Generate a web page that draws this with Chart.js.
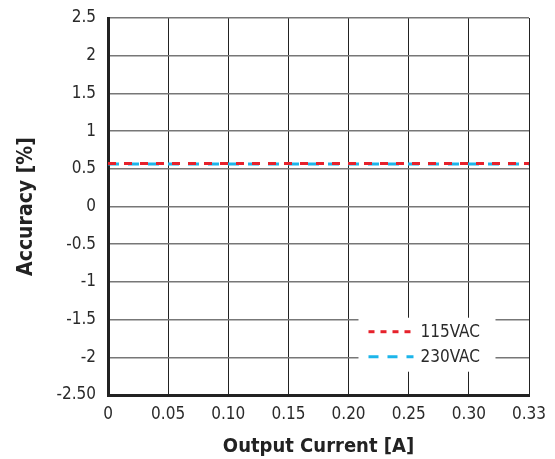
<!DOCTYPE html>
<html><head><meta charset="utf-8">
<script src="https://cdn.jsdelivr.net/npm/chart.js@4/dist/chart.umd.min.js"></script>
<style>html,body{margin:0;padding:0;background:#fff}#wrap{width:555px;height:459px}</style>
</head><body><div id="wrap"><canvas id="c" width="555" height="459"></canvas></div>
<script>
const categories = ['0','0.05','0.10','0.15','0.20','0.25','0.30','0.33'];
const series115 = [0.57,0.57,0.57,0.57,0.57,0.57,0.57,0.57];
const series230 = [0.565,0.565,0.565,0.565,0.565,0.565,0.565,0.565];
const yTickLabels = {'-2.5':'-2.50','-2':'-2','-1.5':'-1.5','-1':'-1','-0.5':'-0.5','0':'0','0.5':'0.5','1':'1','1.5':'1.5','2':'2','2.5':'2.5'};
const FONT = "'DejaVu Sans Condensed','Liberation Sans Narrow',Arial,sans-serif";

const legendPlugin = {
  id: 'boxLegend',
  afterDatasetsDraw(chart) {
    const ctx = chart.ctx, a = chart.chartArea;
    const x0 = a.left + (a.right - a.left) * 0.595, y0 = a.top + (a.bottom - a.top) * 0.795;
    const w = 137, h = 54;
    ctx.save();
    ctx.fillStyle = '#fff';
    ctx.fillRect(x0, y0, w, h);
    chart.data.datasets.forEach((ds, i) => {
      const yy = y0 + 14 + i * 25;
      ctx.strokeStyle = ds.borderColor;
      ctx.lineWidth = 3;
      ctx.setLineDash(ds.legendDash);
      ctx.beginPath(); ctx.moveTo(x0 + 10, yy); ctx.lineTo(x0 + 55, yy); ctx.stroke();
      ctx.setLineDash([]);
      ctx.fillStyle = '#2a2a2a';
      ctx.font = "17px " + FONT;
      ctx.textBaseline = 'middle';
      ctx.fillText(ds.label, x0 + 62, yy + 1);
    });
    ctx.restore();
  }
};

new Chart(document.getElementById('c'), {
  type: 'line',
  data: {
    labels: categories,
    datasets: [
      {label:'115VAC', data: series115, borderColor:'#e6212b', borderWidth:3, borderDash:[8,8], pointRadius:0, fill:false, legendDash:[6,6], order:1},
      {label:'230VAC', data: series230, borderColor:'#1cb5ea', borderWidth:3, borderDash:[11,9], pointRadius:0, fill:false, legendDash:[10,9], order:2}
    ]
  },
  options: {
    responsive:false, animation:false,
    layout:{padding:{top:18,right:26,left:0,bottom:0}},
    plugins:{legend:{display:false}, tooltip:{enabled:false}},
    scales:{
      x:{
        type:'category', offset:false,
        grid:{color:'#222', lineWidth:1, drawTicks:false},
        border:{color:'#222', width:3},
        ticks:{color:'#2a2a2a', font:{family:FONT, size:17}, padding:9, maxRotation:0, autoSkip:false},
        title:{display:true, text:'Output Current [A]', color:'#222', font:{family:FONT, size:20, weight:'bold'}, padding:{top:4,bottom:0}},
        afterFit(s){ s.height = 64; s.paddingLeft = 0; s.paddingRight = 0; }
      },
      y:{
        min:-2.5, max:2.5,
        grid:{color:'#777', lineWidth:1.5, drawTicks:false},
        border:{color:'#222', width:3},
        ticks:{stepSize:0.5, color:'#2a2a2a', font:{family:FONT, size:17}, padding:12,
          callback:(v)=> yTickLabels[String(Math.round(v*10)/10)] ?? v },
        title:{display:true, text:'Accuracy [%]', color:'#222', font:{family:FONT, size:21, weight:'bold'}, padding:{top:14,bottom:0}},
        afterFit(s){ s.width = 108; s.paddingTop = 0; s.paddingBottom = 0; }
      }
    }
  },
  plugins:[legendPlugin]
});
</script></body></html>
